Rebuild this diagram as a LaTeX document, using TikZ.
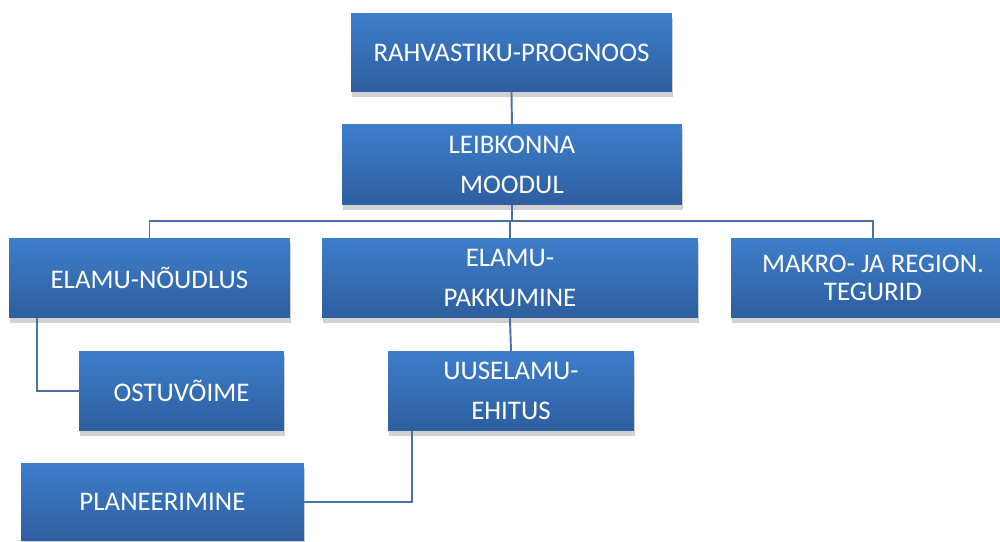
\documentclass[tikz,border=0pt]{standalone}
\usepackage{fontspec}
\setmainfont{Carlito}
\usetikzlibrary{shadows}
\definecolor{boxtop}{HTML}{3D7ECB}
\definecolor{boxbottom}{HTML}{2E5E9E}
\definecolor{linkblue}{HTML}{4A72A8}
\begin{document}
\begin{tikzpicture}[x=0.02cm,y=-0.02cm,
  box/.style={anchor=north west,inner sep=0pt,outer sep=0pt,minimum height=1.6cm,
    top color=boxtop,bottom color=boxbottom,draw=none,text=white,align=center,
    font=\fontsize{15.3}{22.7}\selectfont,
    drop shadow={shadow xshift=0.8pt,shadow yshift=-3pt,opacity=0.3,fill=black!60}},
  link/.style={draw=linkblue,line width=1.1pt}]
\useasboundingbox (0,0) rectangle (1000,541);
\clip (0,0) rectangle (1000,541);
%draw boxes
\node[box,minimum width=6.42cm,minimum height=1.58cm] (prog) at (351,13) {RAHVASTIKU-PROGNOOS};
\node[box,minimum width=6.8cm,minimum height=1.62cm] (leib) at (342,124) {LEIBKONNA\\MOODUL};
\node[box,minimum width=5.62cm] (noud) at (9,238) {ELAMU-NÕUDLUS};
\node[box,minimum width=7.52cm] (pakk) at (322,238) {ELAMU-\\PAKKUMINE};
\node[box,minimum width=5.68cm,font=\fontsize{15.3}{16}\selectfont] (makro) at (731,238) {MAKRO- JA REGION.\\TEGURID};
\node[box,minimum width=4.1cm] (ostu) at (79,351) {OSTUVÕIME};
\node[box,minimum width=4.92cm] (uus) at (388,351) {UUSELAMU-\\EHITUS};
\node[box,minimum width=5.66cm,minimum height=1.56cm] (plan) at (21,463) {PLANEERIMINE};
%draw connectors
\draw[link] (prog.south) -- (leib.north);
\draw[link] (leib.south) -- ++(0,16) coordinate (bus);
\draw[link] (noud.north) |- (bus) -| (makro.north);
\draw[link] (pakk.north |- bus) -- (pakk.north);
\draw[link] ([xshift=0.56cm]noud.south west) |- (ostu.west);
\draw[link] (pakk.south) -- (uus.north);
\draw[link] ([xshift=0.48cm]uus.south west) |- (plan.east);
\end{tikzpicture}
\end{document}
